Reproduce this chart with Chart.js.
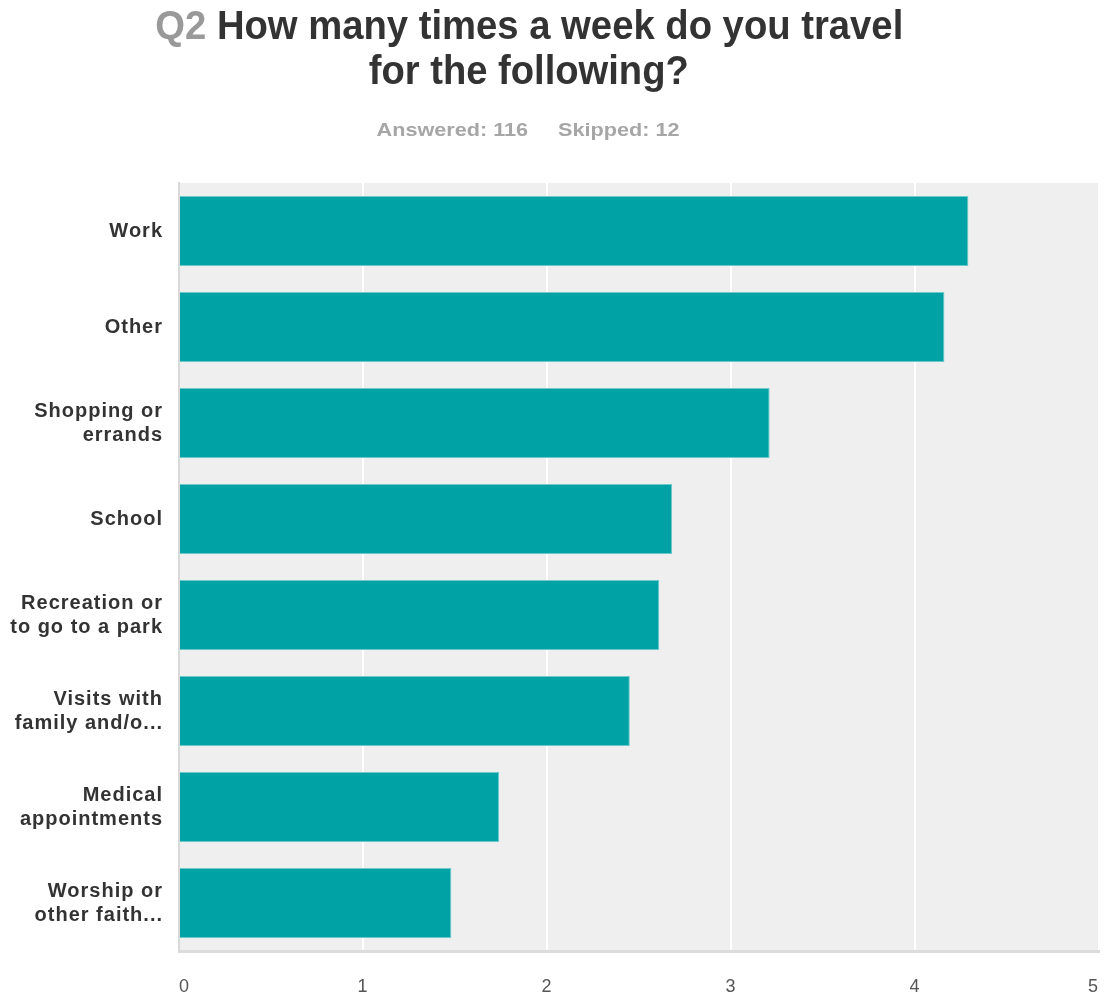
<!DOCTYPE html>
<html>
<head>
<meta charset="utf-8">
<script src="https://cdn.jsdelivr.net/npm/chart.js@4"></script>
<style>
  html, body { margin: 0; padding: 0; background: #fff; }
  #wrap { position: relative; width: 1104px; height: 999px; }
  #chart { position: absolute; left: 0; top: 0; }
  .line {
    position: absolute; left: 0; width: 1104px; text-align: center; white-space: nowrap;
    font-family: 'Liberation Sans', Arial, sans-serif; font-weight: bold;
  }
  .line span { display: inline-block; transform-origin: 50% 50%; }
  .t1 { top: 3px; font-size: 40px; color: #333; }
  .t2 { top: 48px; font-size: 40px; color: #333; }
  .sub { top: 119px; font-size: 19px; color: #a6a6a6; }
  .q { color: #999; }
</style>
</head>
<body>
<div id="wrap">
  <canvas id="chart" width="1104" height="999"></canvas>
  <div class="line t1"><span id="t1" data-w="748" data-x="529"><span class="q">Q2</span> How many times a week do you travel</span></div>
  <div class="line t2"><span id="t2" data-w="320" data-x="529">for the following?</span></div>
  <div class="line sub"><span id="sub" data-w="303" data-x="528">Answered: 116&nbsp;&nbsp;&nbsp;&nbsp;&nbsp;Skipped: 12</span></div>
</div>
<script>
// answer options (multi-line labels as shown on the axis)
const categories = [
  ['Work'],
  ['Other'],
  ['Shopping or', 'errands'],
  ['School'],
  ['Recreation or', 'to go to a park'],
  ['Visits with', 'family and/o...'],
  ['Medical', 'appointments'],
  ['Worship or', 'other faith...'],
];
// weighted average times per week
const averages = [4.29, 4.16, 3.21, 2.68, 2.61, 2.45, 1.74, 1.48];
const xTicks = [0, 1, 2, 3, 4, 5];

// squeeze the header lines to the narrow widths of the original
['t1', 't2', 'sub'].forEach((id) => {
  const el = document.getElementById(id);
  const w = el.getBoundingClientRect().width;
  const sx = +el.dataset.w / w;
  const dx = +el.dataset.x - 552;
  el.style.transform = `translateX(${dx}px) scaleX(${sx})`;
});

const plotBg = {
  id: 'plotBg',
  beforeDraw(chart) {
    const { ctx, chartArea: a } = chart;
    ctx.fillStyle = '#efefef';
    ctx.fillRect(a.left, a.top, a.right - a.left, a.bottom - a.top);
    // the category labels in the original are set wide
    ctx.letterSpacing = '1px';
  },
};

new Chart(document.getElementById('chart'), {
  type: 'bar',
  data: {
    labels: categories,
    datasets: [{
      data: averages,
      backgroundColor: '#00a2a6',
      borderColor: '#6cc9cb',
      borderWidth: 1,
      barPercentage: 0.73,
      categoryPercentage: 1,
    }],
  },
  options: {
    indexAxis: 'y',
    responsive: false,
    animation: false,
    layout: { padding: { top: 183, right: 5, bottom: 0, left: 0 } },
    plugins: { legend: { display: false }, tooltip: { enabled: false } },
    scales: {
      x: {
        min: xTicks[0],
        max: xTicks[xTicks.length - 1],
        afterBuildTicks: (s) => { s.ticks = xTicks.map((v) => ({ value: v })); },
        afterFit: (s) => { s.height = 48; s.paddingRight = 0; s.paddingLeft = 0; },
        grid: { color: '#ffffff', lineWidth: 2, drawTicks: false },
        border: { color: '#dcdcdc', width: 3 },
        ticks: { color: '#555', padding: 25, align: 'inner', font: { family: "'Liberation Sans', Arial, sans-serif", size: 18 } },
      },
      y: {
        grid: { display: false, drawTicks: false },
        border: { color: '#d9d9d9', width: 2 },
        afterFit: (s) => { s.width = 179; },
        ticks: {
          color: '#333', padding: 16,
          font: { family: "'Liberation Sans', Arial, sans-serif", size: 20, weight: 'bold', lineHeight: 1.2 },
        },
      },
    },
  },
  plugins: [plotBg],
});
</script>
</body>
</html>
